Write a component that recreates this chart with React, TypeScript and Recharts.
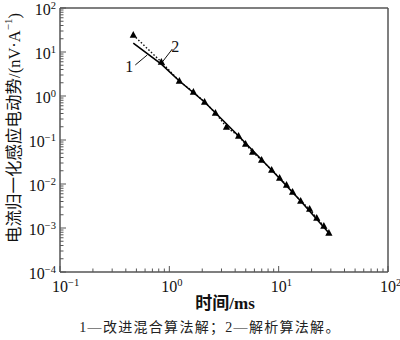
import { LineChart, Line, XAxis, YAxis, ReferenceLine, ReferenceDot } from "recharts";

// 解析算法解 (曲线 2，三角标记)
const analyticT = [0.468, 0.845, 1.235, 1.66, 2.1, 2.64, 3.33, 4.3, 4.98, 5.77, 6.98, 8.63, 10.2, 11.8, 13.4, 15.9, 19.2, 22.3, 25.9, 28.8];
const analyticV = [24.3, 5.93, 2.19, 1.23, 0.731, 0.411, 0.197, 0.123, 0.081, 0.0533, 0.0351, 0.0208, 0.0137, 0.00949, 0.00658, 0.00411, 0.0027, 0.00169, 0.00111, 0.00077];

// 改进混合算法解 (曲线 1，实线)
const hybridT = [0.468, 0.845, 1.235, 2.1, 4.3, 8.63, 15.9, 28.8];
const hybridV = [16.0, 5.3, 2.19, 0.731, 0.123, 0.0208, 0.00411, 0.00077];

const xTicks = [0.1, 0.2, 0.3, 0.4, 0.5, 0.6, 0.7, 0.8, 0.9, 1, 2, 3, 4, 5, 6, 7, 8, 9, 10, 20, 30, 40, 50, 60, 70, 80, 90, 100];
const yTicks = [
  1e-4, 2e-4, 3e-4, 4e-4, 5e-4, 6e-4, 7e-4, 8e-4, 9e-4,
  1e-3, 2e-3, 3e-3, 4e-3, 5e-3, 6e-3, 7e-3, 8e-3, 9e-3,
  0.01, 0.02, 0.03, 0.04, 0.05, 0.06, 0.07, 0.08, 0.09,
  0.1, 0.2, 0.3, 0.4, 0.5, 0.6, 0.7, 0.8, 0.9,
  1, 2, 3, 4, 5, 6, 7, 8, 9,
  10, 20, 30, 40, 50, 60, 70, 80, 90, 100,
];

// 标注引线 (数据坐标)
const lead1 = [{ x: 0.488, y: 5.07 }, { x: 0.628, y: 8.55 }];
const lead2 = [{ x: 0.863, y: 5.93 }, { x: 1.066, y: 11.7 }];

const analytic = analyticT.map((t, i) => ({ t, v: analyticV[i] }));
const hybrid = hybridT.map((t, i) => ({ t, v: hybridV[i] }));

const SERIF = '"Liberation Serif", "Times New Roman", "Noto Sans CJK SC", serif';
const AXIS = "#555";

function expOf(v: number) {
  const l = Math.log10(v);
  const e = Math.round(l);
  return { e, major: Math.abs(l - e) < 1e-6 };
}
const expText = (e: number) => (e < 0 ? `\u2212${-e}` : `${e}`);

function XTick({ x, y, payload }: any) {
  const { e, major } = expOf(payload.value);
  return (
    <g>
      <line x1={x} x2={x} y1={y} y2={y - (major ? 6 : 3.5)} stroke={AXIS} strokeWidth={1} />
      {major && (
        <text x={x - 8} y={y + 20} textAnchor="start" fontFamily={SERIF} fontSize={16} fill="#111">
          10<tspan dy={-6} fontSize={10.5}>{expText(e)}</tspan>
        </text>
      )}
    </g>
  );
}

function YTick({ x, y, payload }: any) {
  const { e, major } = expOf(payload.value);
  return (
    <g>
      <line x1={x} x2={x + (major ? 6 : 3.5)} y1={y} y2={y} stroke={AXIS} strokeWidth={1} />
      {major && (
        <text x={x - 4} y={y + 6.5} textAnchor="end" fontFamily={SERIF} fontSize={16} fill="#111">
          10<tspan dy={-5.5} fontSize={10.5}>{expText(e)}</tspan>
        </text>
      )}
    </g>
  );
}

function Tri({ cx, cy }: any) {
  if (cx == null || cy == null) return <g />;
  return <path d={`M${cx},${cy - 4} L${cx + 3.6},${cy + 2.8} L${cx - 3.6},${cy + 2.8} Z`} fill="#000" />;
}

const YLabel = () => (
  <text
    x={14}
    y={128}
    transform="rotate(-90 14 128)"
    textAnchor="middle"
    dominantBaseline="central"
    fontFamily={SERIF}
    fontSize={16.5}
    fill="#111"
  >
    电流归一化感应电动势/(nV·A<tspan dy={-6} fontSize={11}>−1</tspan><tspan dy={6}>)</tspan>
  </text>
);

const mark = (txt: string) => (p: any) => (
  <text x={p.cx} y={p.cy} textAnchor="middle" dominantBaseline="central" fontFamily={SERIF} fontSize={16} fill="#111">
    {txt}
  </text>
);

export default function App() {
  return (
    <div style={{ position: "absolute", left: 0, top: 0, width: 400, height: 340, background: "#fff" }}>
      <LineChart width={400} height={340} margin={{ top: 8, right: 12, left: 8, bottom: 38 }}>
        <XAxis
          dataKey="t"
          type="number"
          scale="log"
          domain={[0.1, 100]}
          ticks={xTicks}
          interval={0}
          allowDataOverflow
          height={30}
          tickSize={0}
          tickMargin={0}
          tickLine={false}
          axisLine={{ stroke: AXIS, strokeWidth: 1.5 }}
          tick={<XTick />}
        />
        <YAxis
          dataKey="v"
          type="number"
          scale="log"
          domain={[1e-4, 100]}
          ticks={yTicks}
          interval={0}
          allowDataOverflow
          width={52}
          tickSize={0}
          tickMargin={0}
          tickLine={false}
          axisLine={{ stroke: AXIS, strokeWidth: 1.5 }}
          tick={<YTick />}
          label={{ content: YLabel }}
        />
        <ReferenceLine y={100} stroke={AXIS} strokeWidth={1.5} />
        <ReferenceLine x={100} stroke={AXIS} strokeWidth={1.5} />
        <ReferenceLine segment={lead1} stroke="#111" strokeWidth={1} />
        <ReferenceLine segment={lead2} stroke="#111" strokeWidth={1} />
        <ReferenceDot x={0.43} y={4.6} r={0} shape={mark("1")} />
        <ReferenceDot x={1.13} y={13.5} r={0} shape={mark("2")} />
        <Line
          data={analytic}
          dataKey="v"
          stroke="#111"
          strokeWidth={1.4}
          strokeDasharray="1.5 2"
          dot={<Tri />}
          isAnimationActive={false}
        />
        <Line data={hybrid} dataKey="v" stroke="#000" strokeWidth={1.6} dot={false} isAnimationActive={false} />
      </LineChart>
      <div
        style={{
          position: "absolute",
          left: 150,
          width: 150,
          top: 289,
          textAlign: "center",
          fontFamily: SERIF,
          fontSize: 17,
          fontWeight: 600,
          color: "#111",
        }}
      >
        时间/ms
      </div>
      <div
        style={{
          position: "absolute",
          left: 0,
          width: 420,
          top: 316,
          textAlign: "center",
          fontFamily: SERIF,
          fontSize: 14,
          letterSpacing: 1.3,
          color: "#222",
          whiteSpace: "nowrap",
        }}
      >
        1—改进混合算法解；2—解析算法解。
      </div>
    </div>
  );
}
